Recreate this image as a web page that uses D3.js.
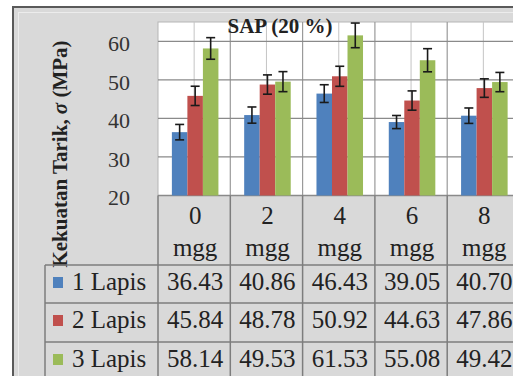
<!DOCTYPE html>
<html>
<head>
<meta charset="utf-8">
<script src="https://cdn.jsdelivr.net/npm/d3@7"></script>
<style>
  html, body { margin: 0; padding: 0; background: #ffffff; }
  svg { display: block; }
  svg text { font-family: "Liberation Serif", "Times New Roman", Tinos, "DejaVu Serif", serif; }
</style>
</head>
<body>
<svg id="chart" width="513" height="376"></svg>
<script>
// ---- data ----
const categories = ["0", "2", "4", "6", "8"];
const categoryUnit = "mgg";
const seriesNames = ["1 Lapis", "2 Lapis", "3 Lapis"];
const lapis1 = [36.43, 40.86, 46.43, 39.05, 40.70];
const lapis2 = [45.84, 48.78, 50.92, 44.63, 47.86];
const lapis3 = [58.14, 49.53, 61.53, 55.08, 49.42];
const err1 = [2.0, 2.1, 2.3, 1.7, 2.0];
const err2 = [2.5, 2.5, 2.6, 2.5, 2.4];
const err3 = [2.8, 2.6, 3.2, 3.0, 2.5];
const yTicks = [20, 30, 40, 50, 60];
const chartTitle = "SAP (20 %)";

const seriesValues = [lapis1, lapis2, lapis3];
const seriesErrors = [err1, err2, err3];
const colors = ["#4f81bd", "#c0504d", "#9bbb59"];

const svg = d3.select("#chart");

// frame
svg.append("rect").attr("x", 13).attr("y", 7).attr("width", 520).attr("height", 390)
  .attr("fill", "#d9d9d9").attr("stroke", "#5a5a5a").attr("stroke-width", 2);
svg.append("rect").attr("x", 18.5).attr("y", 12.5).attr("width", 520).attr("height", 390)
  .attr("fill", "none").attr("stroke", "#ececec").attr("stroke-width", 1);

const plotLeft = 158, plotRight = 519.5, plotTop = 22, plotBottom = 195.5;

const x = d3.scaleBand().domain(categories).range([plotLeft, plotRight]).paddingInner(0).paddingOuter(0);
const xs = d3.scaleBand().domain(seriesNames).range([0, x.bandwidth()]).paddingInner(0).paddingOuter(0.83);
const y = d3.scaleLinear().domain([20, 65]).range([plotBottom, plotTop]);

// plot area
svg.append("rect").attr("x", plotLeft).attr("y", plotTop)
  .attr("width", plotRight - plotLeft).attr("height", plotBottom - plotTop)
  .attr("fill", "#ffffff").attr("stroke", "#b5b5b5").attr("stroke-width", 1);

// vertical grid: category centers (light) and boundaries (darker)
svg.append("g").selectAll("line").data(categories).join("line")
  .attr("x1", d => x(d) + x.bandwidth() / 2).attr("x2", d => x(d) + x.bandwidth() / 2)
  .attr("y1", plotTop).attr("y2", plotBottom)
  .attr("stroke", "#c4c4c4").attr("stroke-width", 1);
svg.append("g").selectAll("line").data(categories.slice(1)).join("line")
  .attr("x1", d => x(d)).attr("x2", d => x(d))
  .attr("y1", plotTop).attr("y2", plotBottom)
  .attr("stroke", "#9a9a9a").attr("stroke-width", 1.2);

// horizontal grid
svg.append("g").selectAll("line").data(yTicks).join("line")
  .attr("x1", plotLeft).attr("x2", plotRight)
  .attr("y1", d => y(d)).attr("y2", d => y(d))
  .attr("stroke", "#8a8a8a").attr("stroke-width", 1.3);

// bars
const barData = [];
seriesNames.forEach((s, si) => {
  categories.forEach((c, ci) => {
    barData.push({ s, si, c, v: seriesValues[si][ci], e: seriesErrors[si][ci] });
  });
});
const gBars = svg.append("g");
gBars.selectAll("rect").data(barData).join("rect")
  .attr("x", d => x(d.c) + xs(d.s) + 1)
  .attr("y", d => y(d.v))
  .attr("width", xs.bandwidth())
  .attr("height", d => y(20) - y(d.v))
  .attr("fill", d => colors[d.si]);

// error bars
const gErr = svg.append("g").attr("stroke", "#1a1a1a").attr("stroke-width", 1.6);
barData.forEach(d => {
  const cx = x(d.c) + xs(d.s) + 1 + xs.bandwidth() / 2;
  gErr.append("line").attr("x1", cx).attr("x2", cx).attr("y1", y(d.v + d.e)).attr("y2", y(d.v - d.e));
  gErr.append("line").attr("x1", cx - 4.5).attr("x2", cx + 4.5).attr("y1", y(d.v + d.e)).attr("y2", y(d.v + d.e));
  gErr.append("line").attr("x1", cx - 4.5).attr("x2", cx + 4.5).attr("y1", y(d.v - d.e)).attr("y2", y(d.v - d.e));
});

// y axis labels
const yAxis = d3.axisLeft(y).tickValues(yTicks).tickSize(0).tickPadding(28);
const gy = svg.append("g").attr("transform", `translate(${plotLeft},0)`).call(yAxis);
gy.attr("font-family", null).attr("font-size", null);
gy.select(".domain").remove();
gy.selectAll("text").attr("font-size", 22).attr("fill", "#333")
  .attr("dy", "0.42em");

// title
svg.append("text").attr("x", 280).attr("y", 33).attr("text-anchor", "middle")
  .attr("font-weight", "bold").attr("font-size", 21).attr("fill", "#222")
  .text(chartTitle);

// y title
const yt = svg.append("text").attr("transform", "translate(67,154) rotate(-90)")
  .attr("text-anchor", "middle").attr("font-weight", "bold")
  .attr("font-size", 21).attr("fill", "#222");
yt.append("tspan").text("Kekuatan Tarik, ");
yt.append("tspan").attr("font-style", "italic").text("σ");
yt.append("tspan").text(" (MPa)");

// data table
const rowTops = [265, 303, 342];
const tableBottom = 380;
const lineColor = "#7d7d7d";
const gT = svg.append("g");
rowTops.forEach(t => {
  gT.append("line").attr("x1", 45).attr("x2", 520).attr("y1", t).attr("y2", t)
    .attr("stroke", lineColor).attr("stroke-width", 1.5);
});
gT.append("line").attr("x1", 45).attr("x2", 45).attr("y1", rowTops[0]).attr("y2", tableBottom)
  .attr("stroke", lineColor).attr("stroke-width", 1.5);
gT.selectAll("line.v").data(categories).join("line").attr("class", "v")
  .attr("x1", d => x(d)).attr("x2", d => x(d))
  .attr("y1", plotBottom).attr("y2", tableBottom)
  .attr("stroke", lineColor).attr("stroke-width", 1.5);

// header
gT.selectAll("text.hn").data(categories).join("text").attr("class", "hn")
  .attr("x", d => x(d) + x.bandwidth() / 2 + 1).attr("y", 224)
  .attr("text-anchor", "middle").attr("font-size", 25).attr("fill", "#222")
  .text(d => d);
gT.selectAll("text.hu").data(categories).join("text").attr("class", "hu")
  .attr("x", d => x(d) + x.bandwidth() / 2 + 1).attr("y", 256)
  .attr("text-anchor", "middle").attr("font-size", 25).attr("fill", "#222")
  .text(categoryUnit);

// rows
seriesNames.forEach((s, si) => {
  const top = rowTops[si];
  gT.append("rect").attr("x", 53).attr("y", top + 12).attr("width", 10).attr("height", 11)
    .attr("fill", colors[si]);
  gT.append("text").attr("x", 72).attr("y", top + 24.5)
    .attr("font-size", 25).attr("fill", "#222").text(s);
  categories.forEach((c, ci) => {
    gT.append("text").attr("x", x(c) + x.bandwidth() / 2 + 1).attr("y", top + 24.5)
      .attr("text-anchor", "middle").attr("font-size", 25).attr("fill", "#222")
      .text(seriesValues[si][ci].toFixed(2));
  });
});
</script>
</body>
</html>
